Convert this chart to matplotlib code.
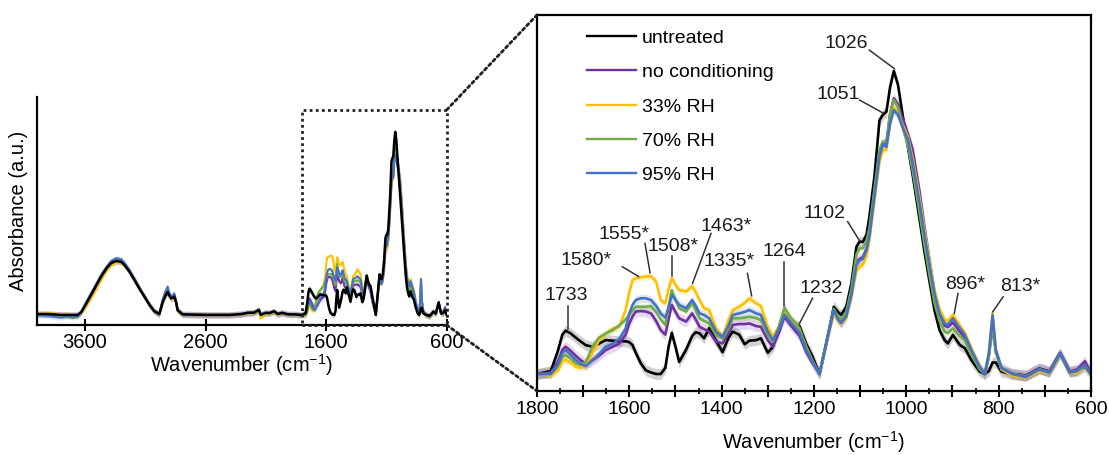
import numpy as np
import matplotlib
matplotlib.use("Agg")
import matplotlib.pyplot as plt
from matplotlib.patches import Rectangle, ConnectionPatch
from matplotlib.ticker import MultipleLocator, FuncFormatter

plt.rcParams['font.family'] = ['Liberation Sans', 'DejaVu Sans']
plt.rcParams['mathtext.default'] = 'regular'

# series
labels = ['untreated', 'no conditioning', '33% RH', '70% RH', '95% RH']
colors = ['#000000', '#7030A0', '#FFC000', '#70AD47', '#4472C4']
spread = [0.018, 0.018, 0.012, 0.010, 0.014]   # std band half width

# 4000-1800 cm-1 (overview only)
wn_hi = [4000, 3900, 3800, 3750, 3700, 3660, 3630, 3590, 3548, 3505,
         3465, 3420, 3383, 3341, 3300, 3273, 3230, 3190, 3150, 3107,
         3065, 3025, 2983, 2955, 2935, 2914, 2900, 2886, 2870, 2859,
         2845, 2831, 2790, 2600, 2400, 2300, 2250, 2200, 2157, 2143,
         2100, 2070, 2033, 2000, 1964, 1930, 1900, 1850, 1820]

hi_untreated = [0.005, 0.005, 0.0, 0.0, 0.0, 0.0, 0.015, 0.06, 0.11, 0.16,
                0.21, 0.255, 0.283, 0.295, 0.29, 0.273, 0.235, 0.191, 0.145, 0.1,
                0.055, 0.02, 0.005, 0.07, 0.1, 0.125, 0.105, 0.09, 0.095, 0.1,
                0.07, 0.025, 0.003, 0.0, 0.0, 0.005, 0.012, 0.012, 0.028, 0.0,
                0.012, 0.01, 0.02, 0.005, 0.012, 0.005, 0.003, 0.003, 0.0]
hi_nocond = [0.003, 0.003, 0.0, 0.0, -0.003, 0.0, 0.016, 0.063, 0.113, 0.163,
             0.213, 0.258, 0.287, 0.3, 0.295, 0.278, 0.238, 0.193, 0.147, 0.101,
             0.056, 0.02, 0.004, 0.075, 0.108, 0.135, 0.108, 0.092, 0.098, 0.104,
             0.072, 0.025, 0.003, 0.0, 0.0, 0.005, 0.01, 0.012, 0.025, 0.003,
             0.01, 0.01, 0.018, 0.005, 0.01, 0.005, 0.003, 0.003, 0.0]
hi_rh33 = [0.008, 0.008, 0.005, 0.005, 0.0, 0.0, 0.01, 0.045, 0.09, 0.14,
           0.19, 0.24, 0.27, 0.285, 0.285, 0.27, 0.235, 0.19, 0.145, 0.1,
           0.055, 0.02, 0.002, 0.07, 0.105, 0.13, 0.1, 0.085, 0.09, 0.098,
           0.065, 0.02, 0.0, 0.0, 0.0, 0.003, 0.008, 0.01, 0.02, -0.02,
           0.008, 0.005, 0.015, 0.0, 0.008, 0.003, 0.0, 0.0, 0.0]
hi_rh70 = [0.003, 0.0, -0.005, -0.003, -0.005, 0.0, 0.018, 0.066, 0.116, 0.166,
           0.216, 0.26, 0.29, 0.302, 0.297, 0.28, 0.24, 0.195, 0.148, 0.102,
           0.056, 0.02, 0.005, 0.08, 0.115, 0.142, 0.112, 0.095, 0.102, 0.11,
           0.075, 0.026, 0.003, 0.0, 0.0, 0.005, 0.01, 0.012, 0.025, 0.003,
           0.01, 0.01, 0.018, 0.005, 0.01, 0.005, 0.003, 0.003, 0.0]
hi_rh95 = [0.0, -0.005, -0.015, -0.008, -0.015, -0.01, 0.02, 0.07, 0.12, 0.17,
           0.22, 0.265, 0.295, 0.31, 0.305, 0.285, 0.245, 0.2, 0.152, 0.105,
           0.058, 0.022, 0.005, 0.085, 0.125, 0.155, 0.12, 0.1, 0.11, 0.118,
           0.08, 0.028, 0.003, 0.0, 0.0, 0.005, 0.01, 0.012, 0.025, 0.005,
           0.01, 0.01, 0.018, 0.005, 0.01, 0.005, 0.003, 0.003, 0.0]

# 1800-600 cm-1 fingerprint region
wn_fp = [1800, 1770, 1755, 1745, 1738, 1728, 1716, 1705, 1694, 1680,
         1666, 1651, 1636, 1622, 1608, 1600, 1593, 1586, 1575, 1564,
         1553, 1542, 1532, 1522, 1515, 1508, 1500, 1492, 1477, 1464,
         1456, 1448, 1438, 1427, 1412, 1398, 1385, 1376, 1362, 1350,
         1340, 1325, 1315, 1300, 1289, 1275, 1264, 1250, 1239, 1231,
         1217, 1203, 1188, 1175, 1166, 1157, 1148, 1141, 1130, 1119,
         1108, 1101, 1094, 1086, 1080, 1069, 1058, 1051, 1043, 1035,
         1027, 1018, 1007, 996, 986, 971, 960, 949, 939, 928,
         917, 910, 899, 884, 873, 859, 841, 830, 821, 813,
         806, 794, 770, 741, 712, 690, 667, 646, 630, 613,
         600]

fp_untreated = [0.0, 0.01, 0.075, 0.13, 0.143, 0.135, 0.12, 0.107, 0.095, 0.09,
                0.10, 0.112, 0.11, 0.108, 0.108, 0.105, 0.095, 0.07, 0.035, 0.012,
                0.005, 0.0, 0.0, 0.02, 0.09, 0.136, 0.09, 0.04, 0.08, 0.125,
                0.138, 0.134, 0.118, 0.151, 0.11, 0.072, 0.12, 0.14, 0.13, 0.098,
                0.11, 0.112, 0.118, 0.07, 0.09, 0.16, 0.215, 0.175, 0.16, 0.157,
                0.1, 0.057, 0.0, 0.09, 0.156, 0.222, 0.205, 0.195, 0.222, 0.299,
                0.42, 0.437, 0.436, 0.46, 0.519, 0.651, 0.838, 0.855, 0.866, 0.948,
                1.0, 0.955, 0.846, 0.745, 0.655, 0.508, 0.398, 0.299, 0.211, 0.145,
                0.112, 0.101, 0.129, 0.096, 0.085, 0.046, 0.008, 0.0, 0.01, 0.038,
                0.038, 0.008, 0.0, -0.005, 0.018, 0.008, 0.068, 0.008, 0.01, 0.025,
                0.0]
fp_nocond = [0.0, 0.005, 0.04, 0.08, 0.09, 0.078, 0.06, 0.045, 0.035, 0.045,
             0.06, 0.079, 0.09, 0.1, 0.13, 0.167, 0.19, 0.206, 0.208, 0.206,
             0.2, 0.175, 0.145, 0.13, 0.18, 0.228, 0.205, 0.184, 0.173, 0.2,
             0.18, 0.156, 0.148, 0.14, 0.107, 0.101, 0.135, 0.162, 0.165, 0.165,
             0.167, 0.158, 0.156, 0.112, 0.09, 0.14, 0.189, 0.16, 0.14, 0.125,
             0.073, 0.035, 0.0, 0.09, 0.15, 0.205, 0.18, 0.17, 0.195, 0.265,
             0.37, 0.38, 0.385, 0.415, 0.46, 0.59, 0.725, 0.76, 0.76, 0.86,
             0.91, 0.89, 0.84, 0.79, 0.74, 0.6, 0.48, 0.37, 0.27, 0.2,
             0.16, 0.155, 0.17, 0.14, 0.12, 0.075, 0.02, 0.0, 0.06, 0.175,
             0.075, 0.02, 0.0, -0.005, 0.018, 0.008, 0.07, 0.008, 0.015, 0.042,
             0.005]
fp_rh33 = [0.0, -0.005, 0.01, 0.04, 0.048, 0.038, 0.024, 0.02, 0.025, 0.07,
           0.11, 0.134, 0.15, 0.156, 0.211, 0.27, 0.31, 0.316, 0.319, 0.322,
           0.323, 0.305, 0.244, 0.233, 0.28, 0.316, 0.295, 0.277, 0.272, 0.29,
           0.27, 0.244, 0.217, 0.211, 0.151, 0.123, 0.18, 0.211, 0.222, 0.235,
           0.25, 0.233, 0.225, 0.156, 0.123, 0.16, 0.211, 0.18, 0.162, 0.14,
           0.09, 0.04, 0.0, 0.085, 0.15, 0.2, 0.175, 0.165, 0.185, 0.25,
           0.34, 0.354, 0.36, 0.39, 0.44, 0.57, 0.70, 0.739, 0.74, 0.83,
           0.88, 0.865, 0.82, 0.78, 0.71, 0.58, 0.47, 0.37, 0.28, 0.215,
           0.18, 0.175, 0.195, 0.16, 0.135, 0.085, 0.025, 0.0, 0.07, 0.2,
           0.08, 0.015, -0.005, -0.012, 0.01, 0.003, 0.065, 0.003, 0.005, 0.028,
           0.0]
fp_rh70 = [0.0, 0.0, 0.025, 0.055, 0.063, 0.052, 0.035, 0.03, 0.04, 0.09,
           0.12, 0.134, 0.145, 0.16, 0.18, 0.195, 0.21, 0.222, 0.222, 0.222,
           0.224, 0.205, 0.18, 0.162, 0.22, 0.277, 0.245, 0.217, 0.206, 0.233,
           0.21, 0.184, 0.175, 0.167, 0.129, 0.118, 0.15, 0.184, 0.184, 0.186,
           0.189, 0.184, 0.178, 0.129, 0.107, 0.16, 0.217, 0.185, 0.167, 0.15,
           0.09, 0.045, 0.0, 0.09, 0.155, 0.215, 0.19, 0.18, 0.205, 0.28,
           0.395, 0.415, 0.415, 0.44, 0.48, 0.61, 0.74, 0.767, 0.765, 0.86,
           0.904, 0.88, 0.81, 0.75, 0.67, 0.53, 0.42, 0.32, 0.235, 0.175,
           0.14, 0.135, 0.151, 0.125, 0.11, 0.065, 0.015, 0.0, 0.06, 0.15,
           0.07, 0.02, 0.0, -0.008, 0.015, 0.005, 0.066, 0.005, 0.01, 0.03,
           0.0]
fp_rh95 = [0.0, 0.0, 0.03, 0.07, 0.079, 0.065, 0.046, 0.033, 0.026, 0.045,
           0.065, 0.09, 0.1, 0.115, 0.15, 0.2, 0.228, 0.244, 0.25, 0.25,
           0.244, 0.225, 0.2, 0.186, 0.22, 0.261, 0.245, 0.228, 0.217, 0.244,
           0.225, 0.2, 0.195, 0.184, 0.14, 0.123, 0.16, 0.195, 0.2, 0.205,
           0.211, 0.2, 0.195, 0.14, 0.112, 0.15, 0.195, 0.17, 0.151, 0.135,
           0.079, 0.04, 0.0, 0.09, 0.15, 0.211, 0.18, 0.168, 0.19, 0.26,
           0.36, 0.376, 0.38, 0.41, 0.453, 0.585, 0.717, 0.758, 0.75, 0.827,
           0.871, 0.855, 0.81, 0.772, 0.695, 0.563, 0.453, 0.354, 0.266, 0.2,
           0.167, 0.162, 0.184, 0.151, 0.129, 0.079, 0.024, 0.0, 0.07, 0.195,
           0.079, 0.02, 0.0, -0.01, 0.015, 0.005, 0.068, 0.005, 0.01, 0.03,
           0.0]

hi_all = [hi_untreated, hi_nocond, hi_rh33, hi_rh70, hi_rh95]
fp_all = [fp_untreated, fp_nocond, fp_rh33, fp_rh70, fp_rh95]

# peak labels: text, text position, leader start, leader end height
peak_labels = ['1733', '1580*', '1555*', '1508*', '1463*', '1335*', '1264',
               '1232', '1102', '1051', '1026', '896*', '813*']
peak_text_xy = [(1736, 0.258), (1694, 0.373), (1611, 0.459), (1506, 0.42),
                (1390, 0.486), (1383, 0.371), (1264, 0.404), (1184, 0.283),
                (1177, 0.53), (1148, 0.921), (1130, 1.091), (873, 0.294),
                (754, 0.288)]
leader_start = [(1733, 0.224), (1615, 0.354), (1566, 0.431), (1508, 0.389),
                (1423, 0.464), (1344, 0.332), (1264, 0.371), (1203, 0.25),
                (1127, 0.503), (1101, 0.904), (1080, 1.069), (888, 0.266),
                (790, 0.255)]
leader_end_y = [0.148, 0.322, 0.334, 0.325, 0.299, 0.258, 0.225, 0.165,
                0.442, 0.862, 1.008, 0.2, 0.205]

FS = 14
fig = plt.figure(figsize=(11.09, 4.55), dpi=100)
ax1 = fig.add_axes([0.0331, 0.2857, 0.3697, 0.501])
ax2 = fig.add_axes([0.4842, 0.1407, 0.4995, 0.8264])

# ---- overview panel ----
for i in range(len(labels))[::-1]:
    x = np.array(wn_hi + wn_fp)
    y = np.array(hi_all[i] + fp_all[i])
    ax1.fill_between(x, y - spread[i], y + spread[i], color=colors[i],
                     alpha=0.15, lw=0, zorder=1)
for i in [1, 2, 3, 4, 0]:
    x = np.array(wn_hi + wn_fp)
    y = np.array(hi_all[i] + fp_all[i])
    ax1.plot(x, y, color=colors[i], lw=1.8 if i == 0 else 1.5, zorder=2 + (i == 0))

ax1.set_xlim(4000, 600)
ax1.set_ylim(-0.055, 1.19)
ax1.spines['top'].set_visible(False)
ax1.spines['right'].set_visible(False)
for s in ['left', 'bottom']:
    ax1.spines[s].set_linewidth(1.6)
ax1.set_yticks([])
ax1.set_xticks([3600, 2600, 1600, 600])
ax1.tick_params(axis='x', direction='inout', length=8, width=1.5,
                labelsize=14.5, pad=2)
ax1.set_xlabel('Wavenumber (cm$^{-1}$)', fontsize=14.5, labelpad=0)
ax1.set_ylabel('Absorbance (a.u.)', fontsize=14.5, labelpad=6)

zoom_top = 1.12
ax1.add_patch(Rectangle((1800, -0.055), -1200, zoom_top + 0.055, fill=False,
                        ec='#222222', lw=2, ls=(0, (1, 1.2)), clip_on=False,
                        zorder=5))

# ---- fingerprint panel ----
handles = []
for i in range(len(labels)):
    x = np.array(wn_fp)
    y = np.array(fp_all[i])
    ax2.fill_between(x, y - spread[i], y + spread[i], color=colors[i],
                     alpha=0.18, lw=0, zorder=1)
for i in range(len(labels)):
    h, = ax2.plot(wn_fp, fp_all[i], color=colors[i], lw=1.9, label=labels[i],
                  zorder=2)
    handles.append(h)

ax2.set_xlim(1800, 600)
ax2.set_ylim(-0.056, 1.185)
for s in ax2.spines.values():
    s.set_linewidth(1.6)
ax2.set_yticks([])
ax2.xaxis.set_major_locator(MultipleLocator(100))
ax2.xaxis.set_minor_locator(MultipleLocator(50))
ax2.xaxis.set_major_formatter(
    FuncFormatter(lambda v, p: '%d' % v if round(v) % 200 == 0 else ''))
ax2.tick_params(axis='x', which='major', direction='inout', length=8,
                width=1.5, labelsize=FS, pad=3)
ax2.tick_params(axis='x', which='minor', direction='inout', length=4,
                width=1.2)
ax2.set_xlabel('Wavenumber (cm$^{-1}$)', fontsize=14.5, labelpad=8)

for lab, txy, start, yend in zip(peak_labels, peak_text_xy, leader_start,
                                 leader_end_y):
    xpk = float(lab.rstrip('*'))
    ax2.text(txy[0], txy[1], lab, fontsize=FS, ha='center', va='center',
             color='#1a1a1a', zorder=6)
    ax2.plot([start[0], xpk], [start[1], yend], color='#333333', lw=1.1,
             zorder=6)

leg = ax2.legend(handles=handles, loc='upper left',
                 bbox_to_anchor=(0.0897, 0.962), frameon=False, fontsize=FS,
                 handlelength=2.55, handletextpad=0.3, labelspacing=0.86,
                 borderpad=0, borderaxespad=0)
for ln in leg.get_lines():
    ln.set_linewidth(1.7)

# dotted connectors between overview box and zoom panel
for ya, yb in [(zoom_top, 1), (-0.055, 0)]:
    con = ConnectionPatch(xyA=(600, ya), coordsA=ax1.transData,
                          xyB=(0, yb), coordsB=ax2.transAxes,
                          color='#222222', lw=2, ls=(0, (1, 1.2)))
    fig.add_artist(con)

fig.savefig('out.png', dpi=100)
